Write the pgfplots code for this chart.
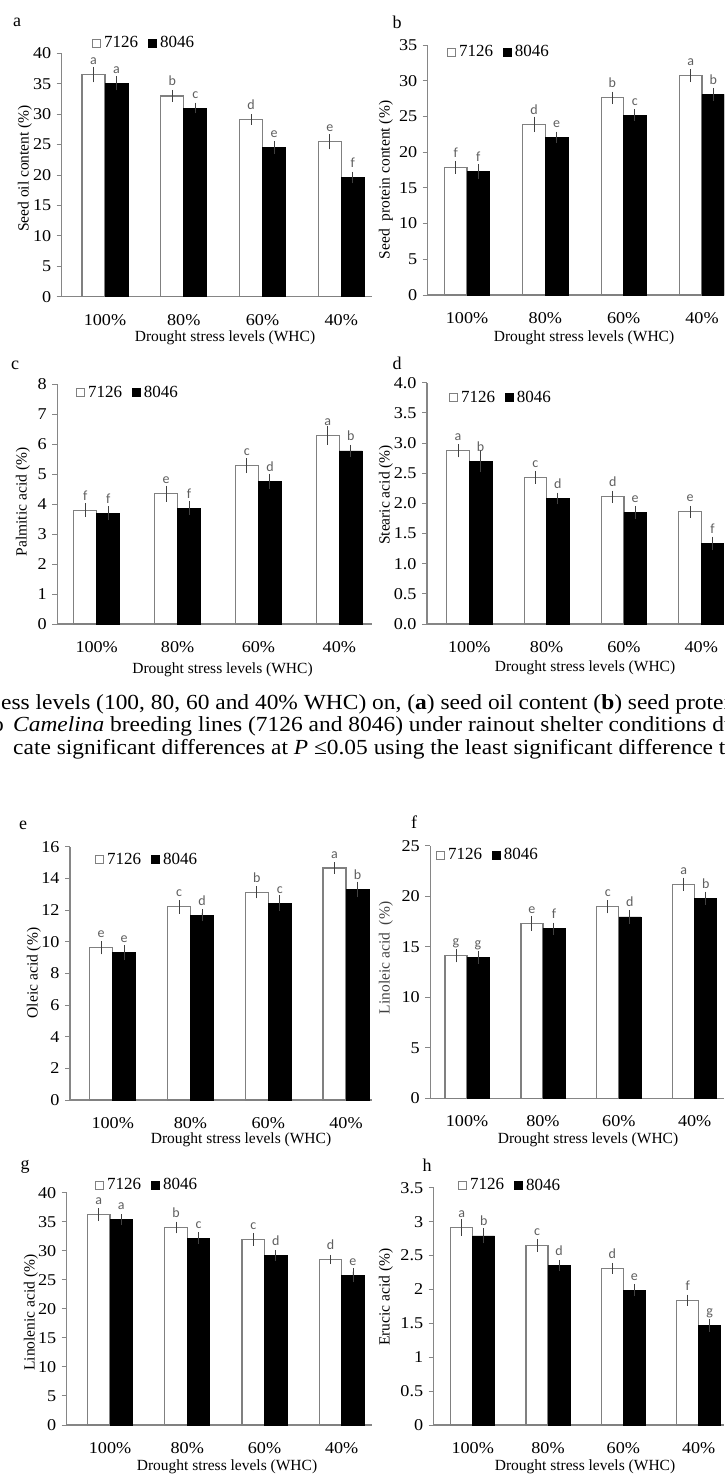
\documentclass[border=0pt]{standalone}
\usepackage{fontspec}
\setmainfont{Liberation Serif}
\newfontfamily\tickserif{Liberation Serif}[FakeStretch=1.1]
\newfontfamily\capserif{Liberation Serif}[FakeStretch=1.09]
\newfontfamily\carlito{Carlito}
\usepackage{pgfplots}
\usepackage{pgfplotstable}
\pgfplotsset{compat=1.18}

\definecolor{axgray}{RGB}{134,134,134}
\definecolor{bargray}{RGB}{128,128,128}
\definecolor{errgray}{RGB}{64,64,64}
\definecolor{lettergray}{RGB}{95,95,95}

\newcommand{\tickfont}{\tickserif\fontsize{16.5}{20}\selectfont}
\newcommand{\legfont}{\fontsize{17}{20}\selectfont}
\newcommand{\labfont}{\fontsize{15.5}{18}\selectfont}

% seed oil content
\pgfplotstableread{
x a ea la b eb lb
0 36.5 0.7 a 35.1 0.6 a
1 33.0 0.4 b 31.0 0.3 c
2 29.1 0.3 d 24.5 0.5 e
3 25.5 0.7 e 19.6 0.4 f
}\dataA
% seed protein content
\pgfplotstableread{
x a ea la b eb lb
0 17.9 0.4 f 17.3 0.5 f
1 23.9 0.6 d 22.1 0.3 e
2 27.6 0.4 b 25.2 0.3 c
3 30.7 0.4 a 28.1 0.4 b
}\dataB
% palmitic
\pgfplotstableread{
x a ea la b eb lb
0 3.80 0.12 f 3.70 0.12 f
1 4.35 0.15 e 3.87 0.12 f
2 5.28 0.13 c 4.76 0.14 d
3 6.30 0.20 a 5.78 0.08 b
}\dataC
% stearic
\pgfplotstableread{
x a ea la b eb lb
0 2.87 0.05 a 2.70 0.13 b
1 2.43 0.05 c 2.08 0.04 d
2 2.11 0.04 d 1.85 0.05 e
3 1.86 0.04 e 1.34 0.05 f
}\dataD
% oleic
\pgfplotstableread{
x a ea la b eb lb
0 9.62 0.20 e 9.30 0.25 e
1 12.20 0.20 c 11.67 0.15 d
2 13.12 0.17 b 12.44 0.27 c
3 14.65 0.15 a 13.30 0.28 b
}\dataE
% linoleic
\pgfplotstableread{
x a ea la b eb lb
0 14.10 0.30 g 13.95 0.30 g
1 17.30 0.35 e 16.80 0.25 f
2 18.95 0.30 c 17.95 0.35 d
3 21.20 0.30 a 19.80 0.30 b
}\dataF
% linolenic
\pgfplotstableread{
x a ea la b eb lb
0 36.2 0.5 a 35.4 0.3 a
1 34.0 0.4 b 32.2 0.4 c
2 32.0 0.5 c 29.2 0.3 d
3 28.5 0.2 d 25.8 0.6 e
}\dataG
% erucic
\pgfplotstableread{
x a ea la b eb lb
0 2.91 0.07 a 2.79 0.06 b
1 2.65 0.04 c 2.35 0.03 d
2 2.31 0.03 d 1.99 0.04 e
3 1.84 0.03 f 1.47 0.04 g
}\dataH

\pgfplotsset{
  panel/.style={
    scale only axis, anchor=south west,
    ybar=0pt,
    axis x line*=bottom, axis y line*=left,
    axis line style={-, draw=axgray, line width=1.2pt},
    xtick={0,1,2,3}, xticklabels={100\%,80\%,60\%,40\%},
    x tick style={draw=none},
    y tick style={draw=axgray, line width=1pt},
    tick align=outside, major tick length=5pt,
    ymin=0,
    tick label style={font=\tickfont, text=black},
    /pgf/number format/assume math mode=true,
    xticklabel style={yshift=-9pt},
    yticklabel style={xshift=-2pt},
    legend columns=2,
    legend style={draw=none, fill=none, anchor=west, inner sep=0pt,
      font=\legfont, nodes={inner sep=1pt},
      /tikz/every odd column/.append style={column sep=2pt},
      /tikz/every even column/.append style={column sep=9pt}},
    legend image code/.code={\draw[##1, line width=0.9pt] (0pt,-4pt) rectangle (8pt,4pt);},
    nodes near coords, point meta=explicit symbolic,
    nodes near coords style={font=\carlito\fontsize{14}{14}\selectfont,
      text=lettergray, anchor=base, yshift=10pt},
    error bars/y dir=both, error bars/y explicit,
    error bars/error bar style={draw=errgray, line width=0.9pt},
    error bars/error mark options={draw=errgray, mark size=3.5pt, line width=0.9pt},
  },
  wbar/.style={fill=white, draw=bargray, line width=1.2pt},
  kbar/.style={fill=black, draw=black, line width=0.6pt},
}

\begin{document}
\begin{tikzpicture}
\useasboundingbox (0pt,0pt) rectangle (724pt,-1475pt);
\clip (0pt,0pt) rectangle (724pt,-1475pt);

% a
\begin{axis}[panel, at={(61.7pt,-296.7pt)}, width=310.3pt, height=243.4pt,
  xmin=-0.55, xmax=3.39, ymax=40, ytick={0,5,...,40}, bar width=23pt,
  legend style={at={(0.0977,1.042)}}]
\addplot[wbar] table[x=x, y=a, y error=ea, meta=la] {\dataA};
\addplot[kbar] table[x=x, y=b, y error=eb, meta=lb] {\dataA};
\legend{7126,8046}
\end{axis}

% b
\begin{axis}[panel, at={(427.7pt,-295pt)}, width=296.3pt, height=250pt,
  xmin=-0.502, xmax=3.281, ymax=35, ytick={0,5,...,35}, bar width=22.5pt,
  legend style={at={(0.065,0.972)}}]
\addplot[wbar] table[x=x, y=a, y error=ea, meta=la] {\dataB};
\addplot[kbar] table[x=x, y=b, y error=eb, meta=lb] {\dataB};
\legend{7126,8046}
\end{axis}

% c
\begin{axis}[panel, at={(57.3pt,-624pt)}, width=314.7pt, height=239.7pt,
  xmin=-0.487, xmax=3.404, ymax=8, ytick={0,1,...,8}, bar width=23pt,
  legend style={at={(0.0594,0.964)}}]
\addplot[wbar] table[x=x, y=a, y error=ea, meta=la] {\dataC};
\addplot[kbar] table[x=x, y=b, y error=eb, meta=lb] {\dataC};
\legend{7126,8046}
\end{axis}

% d
\begin{axis}[panel, at={(427pt,-624pt)}, width=297pt, height=241.3pt,
  xmin=-0.547, xmax=3.294, ymax=4, ytick={0,0.5,...,4}, bar width=22.5pt,
  yticklabel style={/pgf/number format/.cd, fixed, fixed zerofill, precision=1},
  legend style={at={(0.074,0.937)}}]
\addplot[wbar] table[x=x, y=a, y error=ea, meta=la] {\dataD};
\addplot[kbar] table[x=x, y=b, y error=eb, meta=lb] {\dataD};
\legend{7126,8046}
\end{axis}

% e
\begin{axis}[panel, at={(70pt,-1100pt)}, width=302pt, height=253.3pt,
  xmin=-0.549, xmax=3.334, ymax=16, ytick={0,2,...,16}, bar width=23pt,
  legend style={at={(0.0828,0.951)}}]
\addplot[wbar] table[x=x, y=a, y error=ea, meta=la] {\dataE};
\addplot[kbar] table[x=x, y=b, y error=eb, meta=lb] {\dataE};
\legend{7126,8046}
\end{axis}

% f
\begin{axis}[panel, at={(430.3pt,-1098.3pt)}, width=293.7pt, height=252.6pt,
  xmin=-0.484, xmax=3.386, ymax=25, ytick={0,5,...,25}, bar width=22pt,
  legend style={at={(0.0194,0.963)}}]
\addplot[wbar] table[x=x, y=a, y error=ea, meta=la] {\dataF};
\addplot[kbar] table[x=x, y=b, y error=eb, meta=lb] {\dataF};
\legend{7126,8046}
\end{axis}

% g
\begin{axis}[panel, at={(66.7pt,-1425pt)}, width=305.3pt, height=232.3pt,
  xmin=-0.561, xmax=3.392, ymax=40, ytick={0,5,...,40}, bar width=22.5pt,
  legend style={at={(0.0927,1.033)}}]
\addplot[wbar] table[x=x, y=a, y error=ea, meta=la] {\dataG};
\addplot[kbar] table[x=x, y=b, y error=eb, meta=lb] {\dataG};
\legend{7126,8046}
\end{axis}

% h
\begin{axis}[panel, at={(433.7pt,-1425pt)}, width=290.3pt, height=237.3pt,
  xmin=-0.518, xmax=3.336, ymax=3.5, ytick={0,0.5,...,3.5}, bar width=22pt,
  legend style={at={(0.0837,1.011)}}]
\addplot[wbar] table[x=x, y=a, y error=ea, meta=la] {\dataH};
\addplot[kbar] table[x=x, y=b, y error=eb, meta=lb] {\dataH};
\legend{7126,8046}
\end{axis}

\begin{scope}[x=1pt, y=-1pt]
% panel letters
\foreach \t/\px/\py in {a/17/22, b/397/22, c/15/365, d/397/363, e/23/825, f/414/822, g/25/1167, h/427/1165}
  \node[font=\fontsize{18}{20}\selectfont] at (\px,\py) {\t};
% axis titles
\foreach \px/\py in {225/338, 584/338, 222.5/670, 585/668, 241/1140, 588/1140, 227/1467, 585/1467}
  \node[font=\labfont] at (\px,\py) {Drought stress levels (WHC)};
\node[font=\labfont, rotate=90] at (25,168.5) {Seed oil content (\%)};
\node[font=\labfont, rotate=90] at (386,180) {Seed~ protein content (\%)};
\node[font=\labfont, rotate=90] at (23,502) {Palmitic acid (\%)};
\node[font=\labfont, rotate=90] at (386,495) {Stearic acid (\%)};
\node[font=\labfont, rotate=90] at (34,973) {Oleic acid (\%)};
\node[font=\labfont, rotate=90, text=black!75] at (386,958) {Linoleic acid~ (\%)};
\node[font=\labfont, rotate=90] at (31,1312.5) {Linolenic acid (\%)};
\node[font=\labfont, rotate=90] at (386,1297) {Erucic acid (\%)};
% caption fragment
\begin{scope}[font=\capserif\fontsize{21.5}{22}\selectfont]
\node[anchor=base west, inner sep=0pt] at (1,709) {ess levels (100, 80, 60 and 40\% WHC) on, (\textbf{a}) seed oil content (\textbf{b}) seed protein};
\node[anchor=base east, inner sep=0pt] at (4,731) {two};
\node[anchor=base west, inner sep=0pt] at (13,731) {\textit{Camelina} breeding lines (7126 and 8046) under rainout shelter conditions during};
\node[anchor=base west, inner sep=0pt] at (13,754) {cate significant differences at \textit{P} ≤0.05 using the least significant difference test};
\end{scope}
\end{scope}
\end{tikzpicture}
\end{document}
